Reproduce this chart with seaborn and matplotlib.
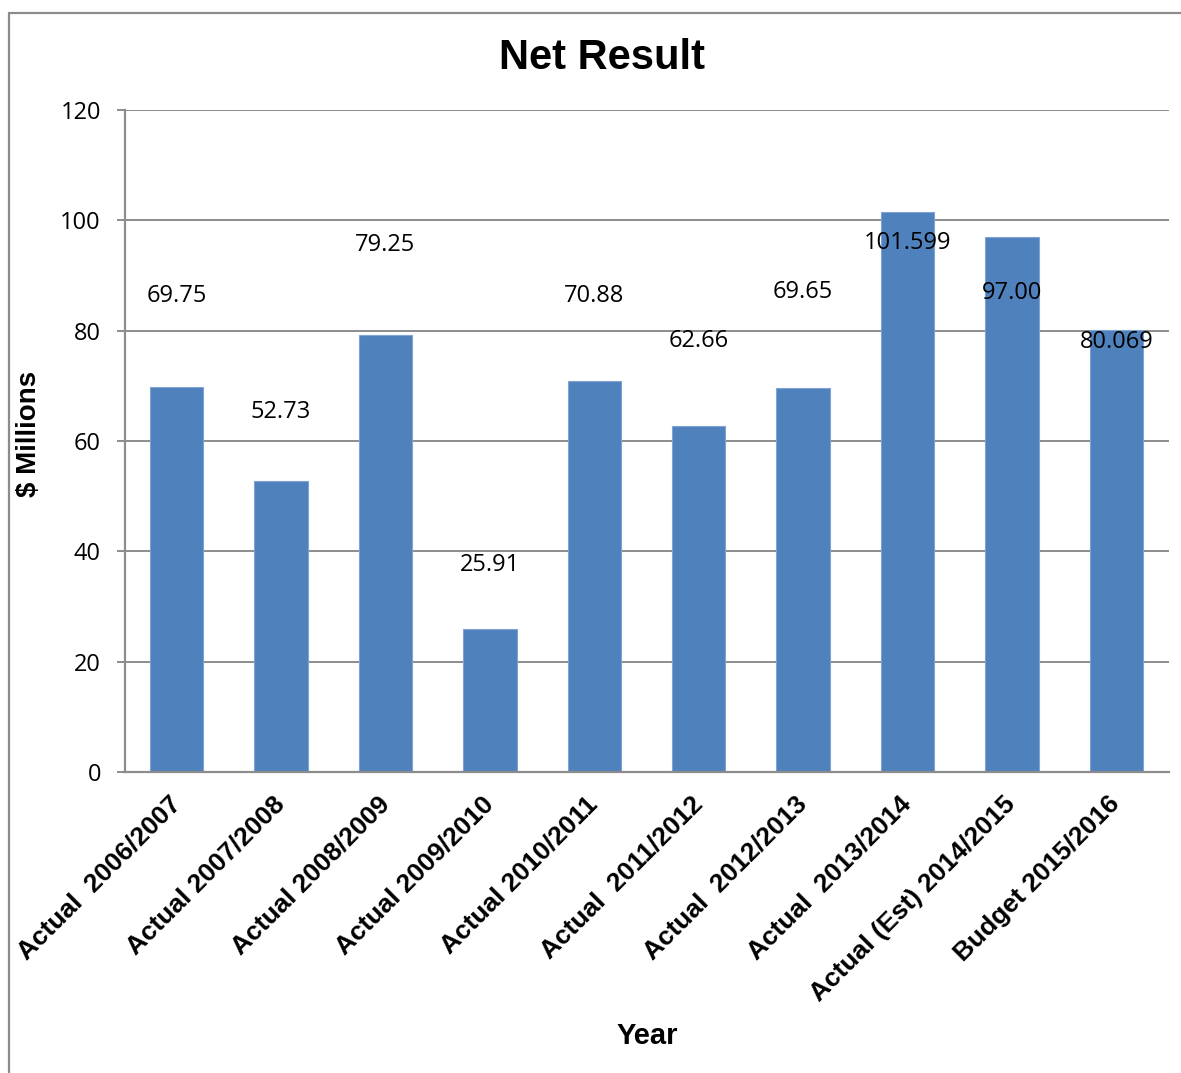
import matplotlib
matplotlib.use("Agg")
import matplotlib.pyplot as plt
from matplotlib.patches import Rectangle
import seaborn as sns
import pandas as pd

# Net result per financial year ($ millions)
years = [
    "Actual  2006/2007",
    "Actual 2007/2008",
    "Actual 2008/2009",
    "Actual 2009/2010",
    "Actual 2010/2011",
    "Actual  2011/2012",
    "Actual  2012/2013",
    "Actual  2013/2014",
    "Actual (Est) 2014/2015",
    "Budget 2015/2016",
]
net_result = [69.75, 52.73, 79.25, 25.91, 70.88, 62.66, 69.65, 101.599, 97.00, 80.069]
value_text = ["69.75", "52.73", "79.25", "25.91", "70.88", "62.66", "69.65", "101.599", "97.00", "80.069"]

# vertical placement of each value label (in axis units)
label_pos = [86.3, 65.3, 95.6, 37.6, 86.3, 78.1, 87.0, 95.9, 86.9, 78.0]

y_ticks = [0, 20, 40, 60, 80, 100, 120]

df = pd.DataFrame({"Year": years, "Net": net_result})

sns.set_style("white")
plt.rcParams["font.family"] = ["Liberation Sans", "DejaVu Sans"]
plt.rcParams["text.color"] = "black"
plt.rcParams["axes.labelcolor"] = "black"
plt.rcParams["xtick.labelcolor"] = "black"
plt.rcParams["ytick.labelcolor"] = "black"

BAR = "#4F81BD"
GRID = "#8C8C8C"
NUM_FONT = ["Open Sans", "DejaVu Sans"]

fig = plt.figure(figsize=(11.81, 10.73), dpi=100)
ax = fig.add_axes([124.5 / 1181, 1 - 772 / 1073, (1168.5 - 124.5) / 1181, (772 - 110) / 1073])

sns.barplot(data=df, x="Year", y="Net", color=BAR, saturation=1, width=0.51,
            edgecolor="#7FA3D3", linewidth=0.8, ax=ax, zorder=3)

ax.set_xlim(-0.5, len(years) - 0.5)
ax.set_ylim(0, 120)
ax.set_yticks(y_ticks)
ax.yaxis.grid(True, color=GRID, linewidth=1.4, zorder=0)
ax.set_axisbelow(True)

for s in ["top", "right"]:
    ax.spines[s].set_visible(False)
for s in ["left", "bottom"]:
    ax.spines[s].set_color(GRID)
    ax.spines[s].set_linewidth(1.6)
ax.spines["bottom"].set_zorder(4)

ax.tick_params(axis="y", which="both", left=True, length=6, width=1.4,
               color=GRID, pad=11, labelsize=17, labelcolor="black")
ax.tick_params(axis="x", bottom=False, pad=17, labelcolor="black")
for lbl in ax.get_yticklabels():
    lbl.set_fontfamily(NUM_FONT)

ax.set_xticks(range(len(years)))
ax.set_xticklabels(years, rotation=45, ha="right", va="center",
                   rotation_mode="anchor", fontsize=19, fontweight="bold")

for i, (txt, yp) in enumerate(zip(value_text, label_pos)):
    ax.text(i, yp, txt, ha="center", va="center", fontsize=17,
            family=NUM_FONT, color="black", zorder=5)

ax.set_xlabel("Year", fontsize=21, fontweight="bold", color="black")
ax.xaxis.set_label_coords((647 - 124.5) / (1168.5 - 124.5), -(1022 - 772) / 662)
ax.set_ylabel("$ Millions", fontsize=20, fontweight="bold", color="black")
ax.yaxis.set_label_coords(-(124.5 - 42) / 1044, (772 - 434) / 662)

fig.text(602 / 1181, 1 - 58 / 1073, "Net Result", ha="center", va="center",
         fontsize=30, fontweight="bold", color="black")

# outer chart-area frame
fig.patches.append(Rectangle((9 / 1181, -0.05), 1.2, 1 - 12.5 / 1073 + 0.05,
                             transform=fig.transFigure, fill=False,
                             edgecolor="#8C8C8C", linewidth=1.6))

fig.savefig("out.png", dpi=100, facecolor="white")
